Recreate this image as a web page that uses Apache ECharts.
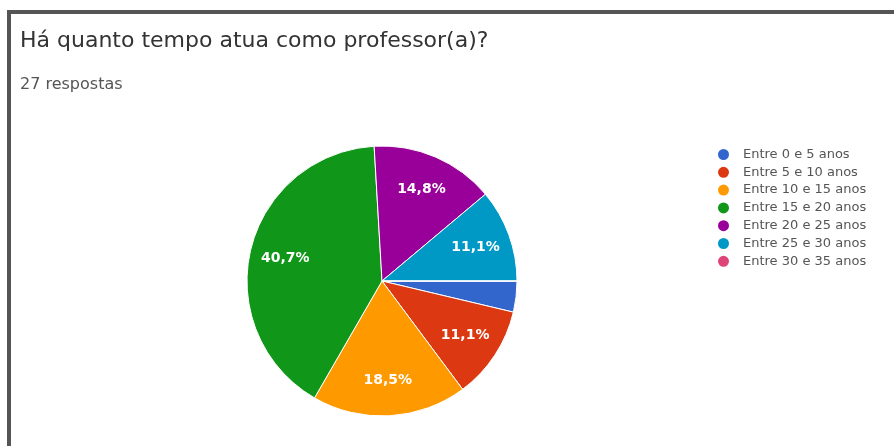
<!DOCTYPE html>
<html>
<head>
<meta charset="utf-8">
<script src="https://cdn.jsdelivr.net/npm/echarts@6/dist/echarts.min.js"></script>
<style>
  html, body { margin: 0; padding: 0; background: #fff; }
  #frame {
    position: absolute; left: 7px; top: 10px; right: 0; bottom: 0;
    border-top: 4px solid #555; border-left: 4px solid #555;
  }
  #chart { position: absolute; left: 0; top: 0; width: 894px; height: 446px; }
</style>
</head>
<body>
<div id="frame"></div>
<div id="chart"></div>
<script>
// Survey answers: years working as a teacher (27 responses)
const titleText = 'Há quanto tempo atua como professor(a)?';
const subtitleText = '27 respostas';
const categories = [
  'Entre 0 e 5 anos',
  'Entre 5 e 10 anos',
  'Entre 10 e 15 anos',
  'Entre 15 e 20 anos',
  'Entre 20 e 25 anos',
  'Entre 25 e 30 anos',
  'Entre 30 e 35 anos'
];
const counts = [1, 3, 5, 11, 4, 3, 0];
const colors = ['#3366cc', '#dc3912', '#ff9900', '#109618', '#990099', '#0099c6', '#dd4477'];

const FONT = '"DejaVu Sans", sans-serif';
const pieData = categories.map((name, i) => ({ name, value: counts[i], itemStyle: { color: colors[i] } }));

// Percent labels only for slices large enough to hold them, with a decimal comma
const pctLabel = p => (p.percent < 5 ? '' : p.percent.toFixed(1).replace('.', ',') + '%');

const chart = echarts.init(document.getElementById('chart'), null, { renderer: 'canvas' });
chart.setOption({
  animation: false,
  backgroundColor: 'transparent',
  title: [
    { text: titleText, left: 20, top: 30, padding: 0,
      textStyle: { fontFamily: FONT, fontSize: 22, fontWeight: 'normal', color: '#333' } },
    { text: subtitleText, left: 20, top: 77, padding: 0,
      textStyle: { fontFamily: FONT, fontSize: 16, fontWeight: 'normal', color: '#555' } }
  ],
  legend: {
    orient: 'vertical',
    left: 716,
    top: 147,
    padding: 0,
    icon: 'circle',
    itemWidth: 13,
    itemHeight: 13,
    itemGap: 2.8,
    data: categories,
    textStyle: { fontFamily: FONT, fontSize: 13, color: '#555', padding: [0, 0, 0, 8] }
  },
  series: [
    {
      type: 'pie',
      center: [382, 281],
      radius: [0, 135],
      startAngle: 0,
      clockwise: true,
      silent: true,
      data: pieData,
      label: { show: false },
      labelLine: { show: false },
      itemStyle: { borderColor: '#fff', borderWidth: 1 }
    },
    {
      // transparent ring carrying the percent labels further out than mid-radius
      type: 'pie',
      center: [382, 281],
      radius: [58, 135],
      startAngle: 0,
      clockwise: true,
      silent: true,
      data: categories.map((name, i) => ({ name, value: counts[i] })),
      itemStyle: { color: 'transparent', borderWidth: 0 },
      label: {
        show: true, position: 'inside', formatter: pctLabel,
        fontFamily: FONT, fontSize: 14, fontWeight: 'bold', color: '#fff'
      },
      labelLine: { show: false }
    }
  ]
});
</script>
</body>
</html>
